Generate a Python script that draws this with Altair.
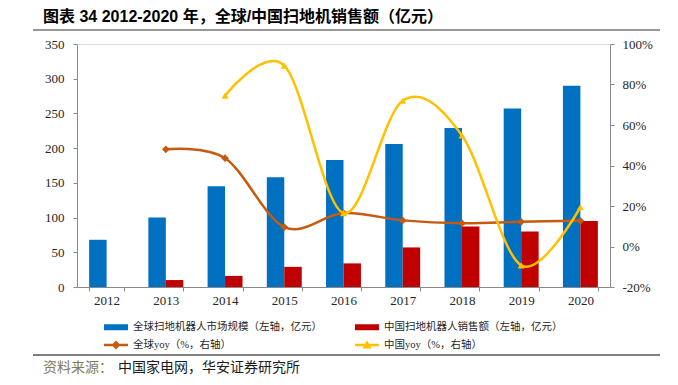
import altair as alt
import pandas as pd

years = ["2012", "2013", "2014", "2015", "2016", "2017", "2018", "2019", "2020"]
global_size = [68, 100, 145, 158, 183, 206, 229, 257, 290]
china_sales = [None, 10, 16, 29, 34, 57, 87, 80, 95]
global_yoy = [None, 48.0, 43.6, 9.6, 16.5, 12.9, 11.5, 12.2, 12.7]
china_yoy = [None, None, 74.5, 89.3, 16.5, 72.0, 54.8, -9.3, 19.4]

S1 = "全球扫地机器人市场规模（左轴，亿元）"
S2 = "中国扫地机器人销售额（左轴，亿元）"
S3 = "全球yoy（%，右轴）"
S4 = "中国yoy（%，右轴）"
# legend order (filled column by column): col1 = S1, S3 ; col2 = S2, S4
legend_names = [S1, S3, S2, S4]
legend_colors = ["#0070C0", "#C55A11", "#C00000", "#FFC000"]
bar_colors = ["#0070C0", "#C00000"]
global_color = "#C55A11"
china_color = "#FFC000"

title_text = "图表 34 2012-2020 年，全球/中国扫地机销售额（亿元）"
source_label = "资料来源："
source_text = "中国家电网，华安证券研究所"

left_ticks = [0, 50, 100, 150, 200, 250, 300, 350]
right_ticks = [-20, 0, 20, 40, 60, 80, 100]

bar_rows = []
for y, a, b in zip(years, global_size, china_sales):
    bar_rows.append({"year": y, "series": S1, "v": a})
    if b is not None:
        bar_rows.append({"year": y, "series": S2, "v": b})
bar_df = pd.DataFrame(bar_rows)
g_df = pd.DataFrame([{"year": y, "v": v} for y, v in zip(years, global_yoy) if v is not None])
c_df = pd.DataFrame([{"year": y, "v": v} for y, v in zip(years, china_yoy) if v is not None])

SERIF = "Liberation Serif, Noto Sans CJK SC"
AXIS_COLOR = "#898989"
LABEL_COLOR = "#262626"

xscale = alt.Scale(type="band", domain=years, paddingInner=0.41, paddingOuter=0.205)
xaxis = alt.Axis(title=None, labelAngle=0, labelFont=SERIF, labelFontSize=13,
                 labelColor=LABEL_COLOR, domainColor=AXIS_COLOR, tickColor=AXIS_COLOR,
                 tickSize=4, labelPadding=3, tickBand="extent")

bars = alt.Chart(bar_df).mark_bar().encode(
    x=alt.X("year:N", scale=xscale, axis=xaxis),
    xOffset=alt.XOffset("series:N", scale=alt.Scale(domain=[S1, S2])),
    y=alt.Y("v:Q", scale=alt.Scale(domain=[0, 350], nice=False),
            axis=alt.Axis(title=None, values=left_ticks, labelFont=SERIF, labelFontSize=13,
                          labelColor=LABEL_COLOR, domainColor=AXIS_COLOR, tickColor=AXIS_COLOR,
                          tickSize=4, labelPadding=9, grid=False)),
    fill=alt.Fill("series:N", scale=alt.Scale(domain=[S1, S2], range=bar_colors), legend=None),
)

yright = alt.Scale(domain=[-20, 100], nice=False)
raxis = alt.Axis(title=None, orient="right", values=right_ticks, labelExpr="datum.value + '%'",
                 labelFont=SERIF, labelFontSize=13, labelColor=LABEL_COLOR,
                 domainColor=AXIS_COLOR, tickColor=AXIS_COLOR, tickSize=4, labelPadding=8, grid=False)

gline = alt.Chart(g_df).mark_line(
    color=global_color, strokeWidth=2.5, interpolate="cardinal",
    point=alt.OverlayMarkDef(shape="diamond", size=60, filled=True, color=global_color, opacity=1),
).encode(
    x=alt.X("year:N", scale=xscale, axis=xaxis),
    y=alt.Y("v:Q", scale=yright, axis=raxis),
)
cline = alt.Chart(c_df).mark_line(
    color=china_color, strokeWidth=2.5, interpolate="cardinal",
    point=alt.OverlayMarkDef(shape="triangle-up", size=50, filled=True, color=china_color, opacity=1),
).encode(
    x=alt.X("year:N", scale=xscale, axis=xaxis),
    y=alt.Y("v:Q", scale=yright, axis=raxis),
)
lines = alt.layer(gline, cline)

RECT = "M-2,-0.5H2V0.5H-2Z"
LINE_DIAMOND = "M-2,-0.2H2V0.2H-2Z M0,-0.75L0.75,0L0,0.75L-0.75,0Z"
LINE_TRIANGLE = "M-2,-0.2H2V0.2H-2Z M0,-0.8L0.75,0.6L-0.75,0.6Z"
legend_shapes = [RECT, LINE_DIAMOND, RECT, LINE_TRIANGLE]

leg = alt.Legend(title=None, orient="none", legendX=33, legendY=277, columns=2,
                 columnPadding=33, rowPadding=6, symbolSize=144, labelOffset=11,
                 labelLimit=400, labelFont=SERIF, labelFontSize=10.5, labelColor=LABEL_COLOR,
                 padding=0, symbolStrokeWidth=0, symbolOpacity=1)
legend_layer = alt.Chart(alt.Data(values=[])).mark_point(filled=True, opacity=1).encode(
    color=alt.Color("series:N", scale=alt.Scale(domain=legend_names, range=legend_colors), legend=leg),
    shape=alt.Shape("series:N", scale=alt.Scale(domain=legend_names, range=legend_shapes), legend=leg),
)

one = alt.Data(values=[{"k": 1}])
title_mark = alt.Chart(one).mark_text(
    align="left", baseline="middle", font="Liberation Sans, Noto Sans CJK SC",
    fontSize=16, fontWeight="bold", color="#000000",
).encode(x=alt.value(-34), y=alt.value(-27), text=alt.value(title_text))
src1 = alt.Chart(one).mark_text(
    align="left", baseline="middle", font="Noto Sans CJK SC", fontSize=14, color="#7f7a5a",
).encode(x=alt.value(-34), y=alt.value(324), text=alt.value(source_label))
src2 = alt.Chart(one).mark_text(
    align="left", baseline="middle", font="Noto Sans CJK SC", fontSize=14, color="#1a1a1a",
).encode(x=alt.value(41), y=alt.value(324), text=alt.value(source_text))
top_rule = alt.Chart(one).mark_rule(color="#333333", strokeWidth=1.2).encode(
    x=alt.value(-44), x2=alt.value(583), y=alt.value(-14))
bot_rule = alt.Chart(one).mark_rule(color="#555555", strokeWidth=1.5).encode(
    x=alt.value(-44), x2=alt.value(583), y=alt.value(311))

chart = alt.layer(
    bars, lines, legend_layer, title_mark, src1, src2, top_rule, bot_rule
).resolve_scale(y="independent").properties(
    width=533, height=243,
    padding={"left": 69, "top": 36, "right": 60, "bottom": 90},
    autosize="none",
).configure_view(stroke=None).configure(background="#ffffff")

chart.save("out.html", embed_options={"renderer": "svg", "actions": False})
